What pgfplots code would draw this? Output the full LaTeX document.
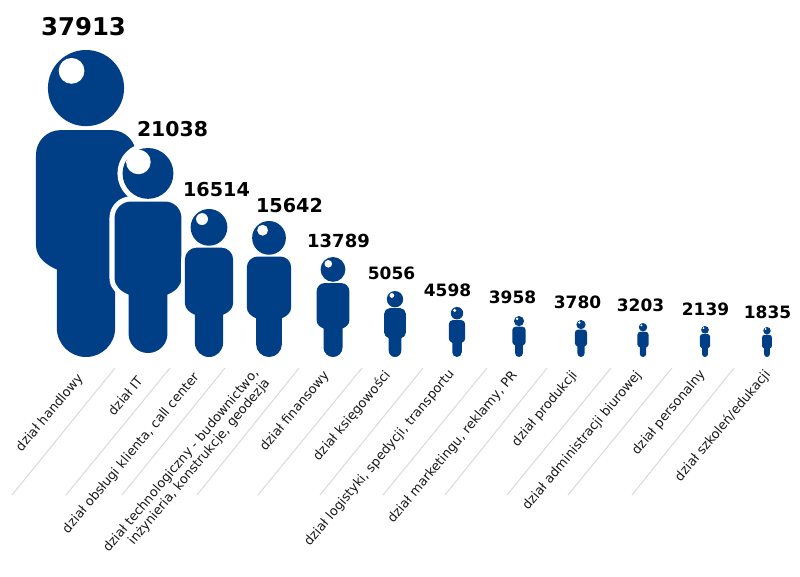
\documentclass[border=0pt]{standalone}
\usepackage{pgfplots}
\pgfplotsset{compat=1.18}
\usepackage{pgfplotstable}
\usepackage{fontspec}
\setmainfont{DejaVu Sans}
\definecolor{navy}{RGB}{0,62,134}
\definecolor{rule}{RGB}{218,218,218}
\def\PP#1#2{\pgfqpoint{#1\pgfplotmarksize}{#2\pgfplotmarksize}}
\def\personbody{%
  \pgfpathcircle{\PP{0}{.876}}{.124\pgfplotmarksize}%
  \pgfpathmoveto{\PP{0}{.739}}%
  \pgfpathlineto{\PP{.083}{.739}}%
  \pgfpathcurveto{\PP{.127}{.739}}{\PP{.163}{.703}}{\PP{.163}{.659}}%
  \pgfpathlineto{\PP{.163}{.365}}%
  \pgfpathcurveto{\PP{.163}{.325}}{\PP{.13}{.30}}{\PP{.095}{.285}}%
  \pgfpathlineto{\PP{.095}{.095}}%
  \pgfpathcurveto{\PP{.095}{.042}}{\PP{.052}{0}}{\PP{0}{0}}%
  \pgfpathcurveto{\PP{-.052}{0}}{\PP{-.095}{.042}}{\PP{-.095}{.095}}%
  \pgfpathlineto{\PP{-.095}{.285}}%
  \pgfpathcurveto{\PP{-.13}{.30}}{\PP{-.163}{.325}}{\PP{-.163}{.365}}%
  \pgfpathlineto{\PP{-.163}{.659}}%
  \pgfpathcurveto{\PP{-.163}{.703}}{\PP{-.127}{.739}}{\PP{-.083}{.739}}%
  \pgfpathclose}
\pgfdeclareplotmark{person}{%
  \pgfsetroundjoin
  \pgfsetlinewidth{.05\pgfplotmarksize}%
  \pgfsetstrokecolor{white}\pgfsetfillcolor{white}%
  \personbody\pgfusepathqfillstroke
  \pgfsetfillcolor{navy}%
  \personbody\pgfusepathqfill
  \pgfsetfillcolor{white}%
  \pgfpathcircle{\PP{-.047}{.932}}{\hl\pgfplotmarksize}%
  \pgfusepathqfill}
\pgfplotstableread{
x    base size hl
86   357  307  0.042
148  353  205  0.060
209  357  148  0.040
269  357  136  0.040
333  357  100  0.038
395  357  66   0.036
457  357  50   0.034
519  357  41   0.034
581  357  37   0.034
643  357  34   0.034
705  357  31   0.034
767  357  30   0.034
}\persons
\pgfplotstableread{
x      y    fs    value
83.5   27   24.4  37913
172.5  129  20.4  21038
216.5  190  19.2  16514
289.5  206  19.2  15642
338.5  241  18.0  13789
391.5  273  17.0  5056
447.5  290  17.0  4598
512.5  297  17.0  3958
577.5  302  17.0  3780
640.5  305  17.0  3203
705.5  309  17.0  2139
767.5  312  17.0  1835
}\values
\begin{document}
\begin{tikzpicture}
\begin{axis}[
  scale only axis, width=800bp, height=576bp,
  xmin=0, xmax=800, ymin=0, ymax=576, y dir=reverse,
  axis lines=none, clip=false,
  axis background/.style={fill=white},
  unbounded coords=jump,
]
\addplot[rule, line width=1bp, forget plot] coordinates {
 (12,495) (115,368) (nan,nan)
 (66,495) (170,368) (nan,nan)
 (122,495) (225,368) (nan,nan)
 (197,495) (299,368) (nan,nan)
 (258,495) (362,368) (nan,nan)
 (320,495) (423,368) (nan,nan)
 (383,495) (487,368) (nan,nan)
 (445,495) (547,368) (nan,nan)
 (507,495) (611,368) (nan,nan)
 (568,495) (672,368) (nan,nan)
 (632,495) (734,368)
};
\addplot[scatter, only marks, mark=person,
  visualization depends on={\thisrow{size}\as\psize},
  visualization depends on={\thisrow{hl}\as\hl},
  scatter/@pre marker code/.append style={/tikz/mark size=\psize bp},
] table[x=x,y=base] {\persons};
\addplot[only marks, mark=none, point meta=explicit symbolic,
  visualization depends on={\thisrow{fs}\as\fs},
  nodes near coords,
  nodes near coords style={anchor=center, text=black, inner sep=0pt,
    font=\fontsize{\fs bp}{\fs bp}\selectfont\bfseries},
] table[x=x,y=y,meta=value] {\values};
\addplot[only marks, mark=none, point meta=explicit symbolic,
  nodes near coords,
  nodes near coords style={anchor=east, rotate=50, inner sep=0pt, align=right,
    text=black!90, font=\fontsize{12.9bp}{14.5bp}\selectfont},
] coordinates {
 (81,376) [dział handlowy]
 (140,378) [dział IT]
 (197,375) [dział obsługi klienta, call center]
 (262,376) [{dział technologiczny - budownictwo,\\inżynieria, konstrukcje, geodezja}]
 (327,373) [dział finansowy]
 (388,373) [dział księgowości]
 (452,372) [dział logistyki, spedycji, transportu]
 (515,373) [dział marketingu, reklamy, PR]
 (575,373) [dział produkcji]
 (639,373) [dział administracji biurowej]
 (703,372) [dział personalny]
 (768,372) [dział szkoleń/edukacji]
};
\end{axis}
\end{tikzpicture}
\end{document}
